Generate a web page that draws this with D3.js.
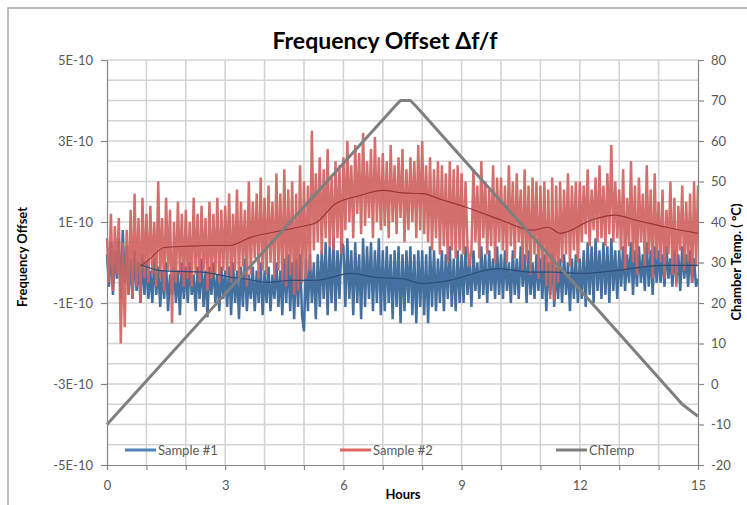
<!DOCTYPE html>
<html>
<head>
<meta charset="utf-8">
<script src="https://cdn.jsdelivr.net/npm/d3@7"></script>
<style>
  body { margin: 0; background: #fff; }
  svg { display: block; font-family: Lato, "Open Sans", sans-serif; }
</style>
</head>
<body>
<svg id="chart" width="747" height="505"></svg>
<script>
// Samples every 0.05 h, values in units of 1E-10 (one row per hour)
var sampleStep = 0.05;
var sample1 = [
  0.2,-0.6,0.5,-0.8,0.3,-0.4,0.6,-0.9,0.8,-0.5,0.4,-0.8,0.1,-0.9,0.3,-0.7,0.0,-1.0,0.2,-0.8,
  0.0,-0.9,-0.2,-1.0,0.1,-0.8,-0.1,-1.1,-0.2,-0.9,0.0,-1.2,-0.3,-0.8,-0.1,-1.0,-0.2,-1.3,0.0,-0.9,
  -0.1,-1.0,0.0,-0.8,-0.3,-1.2,-0.1,-0.9,0.1,-1.1,-0.2,-1.35,-0.1,-0.8,0.0,-1.0,-0.3,-1.2,-0.1,-0.9,
  -0.2,-1.1,-0.1,-1.3,0.0,-1.0,-0.2,-1.4,-0.1,-1.1,0.1,-1.2,-0.3,-0.9,-0.1,-1.2,-0.2,-1.0,0.0,-1.3,
  -0.2,-1.0,-0.1,-1.2,-0.3,-0.9,0.0,-1.1,-0.2,-1.3,0.1,-1.0,0.2,-1.2,0.0,-1.4,0.1,-1.1,0.2,-1.3,
  -1.7,0.1,-1.2,0.2,-1.0,0.0,-1.4,0.2,-1.1,0.3,-0.9,0.5,-1.3,0.4,-1.0,0.6,-1.2,0.3,-0.9,0.5,
  0.4,-1.1,0.6,-0.9,0.3,-1.3,0.5,-1.0,0.2,-1.4,0.6,-1.1,0.4,-0.9,0.5,-1.2,0.3,-1.0,0.6,-1.3,
  0.3,-1.2,0.4,-1.0,0.2,-1.4,0.3,-1.1,0.4,-1.5,0.2,-1.2,0.3,-1.0,0.4,-1.3,0.2,-1.5,0.3,-1.1,
  0.3,-1.3,0.2,-1.5,0.4,-1.1,0.3,-1.2,0.1,-1.0,0.3,-1.2,0.2,-0.9,0.4,-1.1,0.1,-1.2,0.3,-1.0,
  0.2,-1.0,0.4,-0.8,0.1,-1.1,0.3,-0.7,0.0,-0.9,0.4,-0.8,0.2,-1.0,0.3,-0.7,0.1,-0.9,0.4,-0.8,
  0.2,-0.9,0.3,-0.7,0.0,-1.0,0.3,-0.8,0.1,-0.9,0.4,-0.6,0.2,-1.0,0.3,-0.8,0.0,-0.9,0.2,-0.7,
  0.1,-0.9,0.2,-1.2,0.0,-0.8,0.2,-1.1,-0.1,-0.9,0.1,-1.0,0.2,-0.8,0.0,-1.2,0.1,-0.9,0.2,-1.0,
  0.1,-0.9,0.3,-1.1,0.5,-0.8,0.4,-1.0,0.6,-0.7,0.3,-0.9,0.5,-0.8,0.4,-1.0,0.6,-0.7,0.3,-0.9,
  0.3,-0.6,0.4,-0.7,0.2,-0.5,0.5,-0.8,0.3,-0.6,0.4,-0.5,0.2,-0.7,0.5,-0.6,0.3,-0.8,0.4,-0.5,
  0.3,-0.5,0.2,-0.6,0.4,-0.4,0.1,-0.6,0.3,-0.5,0.2,-0.7,0.4,-0.4,0.2,-0.6,0.3,-0.5,0.1,-0.6,
  -0.4
];
var sample2 = [
  0.6,-0.5,1.2,-0.7,0.9,-0.3,1.1,-2.0,0.5,-1.6,0.8,-0.8,1.3,-0.9,1.7,-0.6,1.1,-1.0,1.6,-0.4,
  1.2,-0.5,1.4,-0.3,1.0,-0.6,2.0,-0.4,1.1,-0.7,1.6,-0.2,1.3,-1.5,1.0,-0.5,1.5,-0.3,1.2,-0.6,
  1.3,-0.4,1.0,-0.6,1.6,-0.3,1.2,-0.5,1.4,-0.2,1.1,-0.7,1.5,-0.4,1.2,-0.3,1.6,-0.5,1.3,-0.2,
  1.4,-0.3,1.7,-0.5,1.2,-0.2,1.8,-0.4,1.5,-0.1,1.3,-0.6,2.0,-0.3,1.5,0.1,1.7,-0.4,2.1,-0.2,
  1.6,-0.3,1.9,0.0,1.5,-0.4,2.2,-0.2,1.7,-0.5,2.3,-0.6,1.8,-0.3,2.0,-0.8,1.7,-0.7,2.4,-0.5,
  2.0,-0.4,1.9,-0.2,3.25,0.3,2.2,0.5,2.6,0.2,2.3,0.6,2.8,0.4,2.1,0.3,2.5,0.6,2.4,0.2,
  2.6,0.8,3.0,1.0,2.4,0.6,2.9,1.2,2.7,0.7,3.2,0.9,2.5,1.1,2.8,0.6,3.1,1.0,2.6,0.8,
  2.7,0.9,2.5,0.6,2.9,1.0,2.4,0.7,2.6,1.1,2.8,0.5,2.3,0.8,2.6,1.0,2.5,0.6,2.9,0.8,
  3.0,0.7,2.4,0.5,2.6,0.3,2.3,0.6,2.5,0.2,2.4,0.4,2.2,0.0,2.5,0.3,2.3,0.1,2.4,0.3,
  2.2,0.2,2.0,0.4,-0.1,0.3,2.3,0.5,1.9,0.1,2.5,0.6,2.0,0.2,1.8,0.4,2.4,0.0,2.1,0.5,
  2.1,0.3,1.9,0.0,2.4,0.4,2.0,0.1,2.2,0.5,1.8,-0.2,2.3,0.0,1.9,-0.3,2.1,0.2,2.0,-0.4,
  1.9,-0.2,2.0,-0.6,1.8,-0.9,2.1,-0.95,1.9,-0.5,2.0,0.0,1.8,0.2,2.2,-0.1,1.9,0.3,2.0,0.0,
  2.0,0.5,1.9,0.7,2.3,0.4,1.8,0.8,2.1,0.5,2.4,0.6,1.9,0.4,2.2,0.7,2.9,0.5,2.0,0.6,
  1.8,0.3,2.3,-0.2,1.6,0.4,2.5,0.0,1.9,-0.3,2.1,0.5,1.7,-0.1,2.4,0.2,1.8,-0.4,2.2,0.1,
  1.5,0.0,1.8,-0.4,1.3,0.2,2.0,-0.3,1.6,-0.6,1.4,0.3,1.9,-0.2,1.5,0.0,1.7,-0.5,2.0,-0.1,
  1.9
];

// Moving averages (hours, value in 1E-10)
var avg1Hours = [0.85,1.35,2.4,3.2,3.6,4.05,4.7,5.3,6.2,6.85,7.5,8.0,8.7,9.9,10.8,11.3,12.1,12.9,14.1,15.0];
var avg1Values = [-0.05,-0.2,-0.24,-0.37,-0.42,-0.49,-0.44,-0.44,-0.27,-0.37,-0.4,-0.52,-0.44,-0.15,-0.24,-0.24,-0.27,-0.2,-0.07,-0.07];
var avg2Hours = [0.85,1.1,1.45,2.0,2.6,3.1,3.65,4.5,5.0,5.3,5.8,6.4,7.0,7.5,8.0,8.5,9.1,10.0,10.8,11.2,11.5,12.3,12.9,13.4,13.8,14.2,15.0];
var avg2Values = [-0.1,0.1,0.37,0.4,0.42,0.42,0.62,0.8,0.9,0.98,1.45,1.65,1.78,1.72,1.7,1.55,1.37,1.05,0.8,0.87,0.72,1.05,1.17,1.05,0.96,0.87,0.72];

// Chamber temperature (°C)
var tempHours = [0, 7.35, 7.45, 7.7, 7.85, 14.6, 15.0];
var tempValues = [-10, 69, 70, 70, 68.5, -5, -8];

var leftTicks = [-5, -3, -1, 1, 3, 5];
var rightTicks = [-20, -10, 0, 10, 20, 30, 40, 50, 60, 70, 80];
var hourTicks = [0, 3, 6, 9, 12, 15];
var seriesNames = ["Sample #1", "Sample #2", "ChTemp"];
var seriesColors = ["#4f81bd", "#e06666", "#7f7f7f"];

var svg = d3.select("#chart");

// outer chart frame
svg.append("rect")
  .attr("x", 8).attr("y", 8)
  .attr("width", 760).attr("height", 520)
  .attr("fill", "none")
  .attr("stroke", "#a6a6a6")
  .attr("stroke-width", 1.5);

var x = d3.scaleLinear().domain([0, 15]).range([107, 698]);
var y = d3.scaleLinear().domain([-5, 5]).range([465, 60]);
var yT = d3.scaleLinear().domain([-20, 80]).range([465, 60]);

// gridlines
var grid = svg.append("g").attr("stroke", "#d4d4d4").attr("stroke-width", 1.6);
grid.selectAll(".h").data(y.ticks(20).filter(function(d) { return d > -5; }))
  .enter().append("line")
  .attr("x1", x(0)).attr("x2", x(15))
  .attr("y1", function(d) { return y(d); })
  .attr("y2", function(d) { return y(d); });
grid.selectAll(".v").data(x.ticks(15).filter(function(d) { return d > 0 && d < 15; }))
  .enter().append("line")
  .attr("y1", y(-5)).attr("y2", y(5))
  .attr("x1", function(d) { return x(d); })
  .attr("x2", function(d) { return x(d); });

var noisyLine = d3.line()
  .x(function(d, i) { return x(i * sampleStep); })
  .y(function(d) { return y(d); });

svg.append("path")
  .datum(sample1)
  .attr("fill", "none")
  .attr("stroke", "#44709f")
  .attr("stroke-width", 2.5)
  .attr("d", noisyLine);

svg.append("path")
  .datum(sample2)
  .attr("fill", "none")
  .attr("stroke", "#cf6361")
  .attr("stroke-opacity", 0.92)
  .attr("stroke-width", 2.5)
  .attr("d", noisyLine);

var avgLine = d3.line()
  .x(function(d) { return x(d[0]); })
  .y(function(d) { return y(d[1]); })
  .curve(d3.curveMonotoneX);

svg.append("path")
  .datum(d3.zip(avg1Hours, avg1Values))
  .attr("fill", "none")
  .attr("stroke", "#2a4d7a")
  .attr("stroke-width", 1.2)
  .attr("d", avgLine);

svg.append("path")
  .datum(d3.zip(avg2Hours, avg2Values))
  .attr("fill", "none")
  .attr("stroke", "#9a3432")
  .attr("stroke-width", 1.1)
  .attr("d", avgLine);

// chamber temperature on the secondary axis
svg.append("path")
  .datum(d3.zip(tempHours, tempValues))
  .attr("fill", "none")
  .attr("stroke", "#7f7f7f")
  .attr("stroke-width", 3)
  .attr("stroke-linejoin", "round")
  .attr("d", d3.line()
    .x(function(d) { return x(d[0]); })
    .y(function(d) { return yT(d[1]); }));

// axes
function styleAxis(g) {
  g.select(".domain").attr("stroke", "#868686").attr("stroke-width", 1.2);
  g.selectAll(".tick line").attr("stroke", "#868686").attr("stroke-width", 1.2);
  g.selectAll(".tick text")
    .attr("fill", "#595959")
    .style("font-family", "Lato, sans-serif")
    .style("font-size", "13px");
}

svg.append("g")
  .attr("transform", "translate(" + x(0) + ",0)")
  .call(d3.axisLeft(y).tickValues(leftTicks).tickSize(6).tickSizeOuter(0).tickPadding(8)
    .tickFormat(function(d) { return d + "E-10"; }))
  .call(styleAxis);

svg.append("g")
  .attr("transform", "translate(" + x(15) + ",0)")
  .call(d3.axisRight(yT).tickValues(rightTicks).tickSize(6).tickSizeOuter(0).tickPadding(7)
    .tickFormat(function(d) { return String(d); }))
  .call(styleAxis);

svg.append("g")
  .attr("transform", "translate(0," + y(-5) + ")")
  .call(d3.axisBottom(x).ticks(15).tickSize(5).tickSizeOuter(0).tickPadding(11)
    .tickFormat(function(d) { return hourTicks.indexOf(d) >= 0 ? String(d) : ""; }))
  .call(styleAxis);

// titles
svg.append("text")
  .attr("x", 385).attr("y", 49)
  .attr("text-anchor", "middle")
  .style("font-size", "23px").style("font-weight", "bold")
  .attr("fill", "#000")
  .text("Frequency Offset \u0394f/f");

svg.append("text")
  .attr("transform", "translate(27,257) rotate(-90)")
  .attr("text-anchor", "middle")
  .style("font-size", "13px").style("font-weight", "bold")
  .text("Frequency Offset");

svg.append("text")
  .attr("transform", "translate(741,262) rotate(-90)")
  .attr("text-anchor", "middle")
  .style("font-size", "13px").style("font-weight", "bold")
  .text("Chamber Temp. ( \u00b0C)");

svg.append("text")
  .attr("x", 403).attr("y", 499)
  .attr("text-anchor", "middle")
  .style("font-size", "13px").style("font-weight", "bold")
  .text("Hours");

// legend
var legendX = [125, 340, 556];
var legend = svg.append("g");
seriesNames.forEach(function(name, i) {
  legend.append("line")
    .attr("x1", legendX[i]).attr("x2", legendX[i] + 31)
    .attr("y1", 450).attr("y2", 450)
    .attr("stroke", seriesColors[i]).attr("stroke-width", 3);
  legend.append("text")
    .attr("x", legendX[i] + 33).attr("y", 455)
    .attr("fill", "#595959")
    .style("font-size", "13px")
    .text(name);
});
</script>
</body>
</html>
